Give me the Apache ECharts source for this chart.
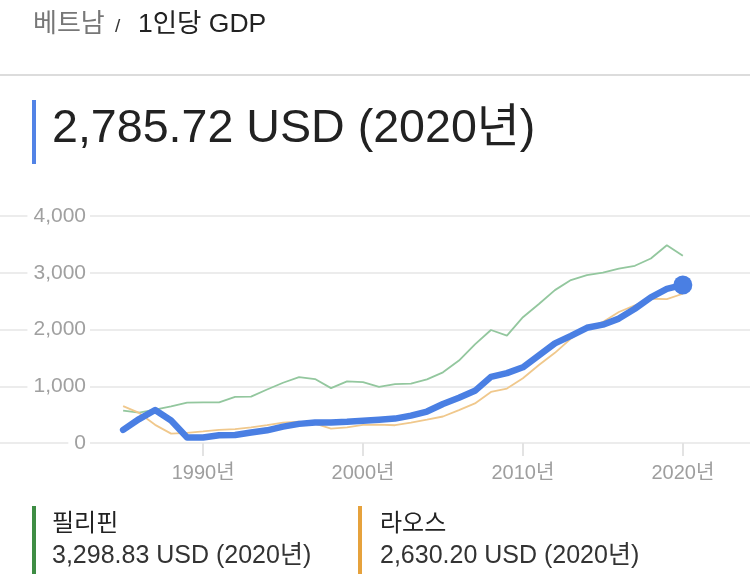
<!DOCTYPE html>
<html>
<head>
<meta charset="utf-8">
<script src="https://cdn.jsdelivr.net/npm/echarts@6/dist/echarts.min.js"></script>
<style>
html,body{margin:0;padding:0;background:#fff;}
#chart{width:750px;height:580px;}
</style>
</head>
<body>
<div id="chart"></div>
<script>
var years = [1985,1986,1987,1988,1989,1990,1991,1992,1993,1994,1995,1996,1997,1998,1999,2000,2001,2002,2003,2004,2005,2006,2007,2008,2009,2010,2011,2012,2013,2014,2015,2016,2017,2018,2019,2020];
var vietnam = [231,422,581,395,98,98,138,141,185,223,288,337,361,361,374,394,410,430,482,554,687,797,919,1165,1232,1334,1543,1755,1887,2030,2085,2192,2366,2567,2715,2785.72];
var philippines = [569,536,587,645,713,715,716,814,817,943,1062,1160,1127,967,1087,1073,990,1036,1048,1121,1245,1453,1737,1991,1893,2217,2450,2694,2871,2960,3001,3074,3123,3252,3485,3298.83];
var laos = [650,530,320,165,180,204,230,246,275,314,359,378,343,252,276,319,324,313,360,412,467,580,697,900,960,1141,1374,1589,1840,2017,2134,2309,2424,2542,2535,2630.20];
var xTicks = [1990,2000,2010,2020];

var FONT = "'Liberation Sans', 'Noto Sans CJK KR', sans-serif";
function pairs(arr){ return years.map(function(y,i){ return [y, arr[i]]; }); }

var chart = echarts.init(document.getElementById('chart'), null, {renderer:'canvas'});
chart.setOption({
  backgroundColor:'#fff',
  animation:false,
  grid:{left:0,right:0,top:216,bottom:137,containLabel:false},
  xAxis:{
    type:'value',
    min:1977.3,
    max:2024.2,
    axisLine:{show:false},
    splitLine:{show:false},
    axisTick:{show:true,customValues:xTicks,length:13,lineStyle:{color:'#e3e3e3',width:2}},
    axisLabel:{customValues:xTicks,formatter:function(v){return String(v)+'년';},color:'#9e9e9e',fontSize:20,fontFamily:FONT,margin:20}
  },
  yAxis:{
    type:'value',
    min:0,max:4000,interval:1000,
    axisLine:{show:false},
    axisTick:{show:false},
    splitLine:{show:true,lineStyle:{color:'#ececec',width:2}},
    axisLabel:{
      inside:true,align:'right',margin:90,
      color:'#a0a0a0',fontSize:21,fontFamily:FONT,
      backgroundColor:'#fff',padding:[2,4,2,6],
      formatter:function(v){return v.toLocaleString('en-US');}
    }
  },
  series:[
    {type:'line',name:'필리핀',data:pairs(philippines),showSymbol:false,
     lineStyle:{color:'#93c79e',width:1.8},z:2},
    {type:'line',name:'라오스',data:pairs(laos),showSymbol:false,
     lineStyle:{color:'#f0c88c',width:1.8},z:3},
    {type:'line',name:'베트남',data:pairs(vietnam),showSymbol:false,
     lineStyle:{color:'#4a7fe3',width:6.5,cap:'round',join:'round'},z:4,
     markPoint:{symbol:'circle',symbolSize:19,label:{show:false},itemStyle:{color:'#4a7fe3'},
       data:[{coord:[years[years.length-1], vietnam[vietnam.length-1]]}]}}
  ],
  graphic:[
    {type:'text',x:33,y:25,style:{text:'베트남',fill:'#777',font:'26px '+FONT,verticalAlign:'middle'}},
    {type:'text',x:115,y:27,style:{text:'/',fill:'#333',font:'19px '+FONT,verticalAlign:'middle'}},
    {type:'text',x:138,y:25,style:{text:'1인당 GDP',fill:'#222',font:'26.5px '+FONT,verticalAlign:'middle'}},
    {type:'rect',shape:{x:0,y:74,width:750,height:2},style:{fill:'#dcdcdc'}},
    {type:'rect',shape:{x:32,y:100,width:4,height:64},style:{fill:'#5283e6'}},
    {type:'text',x:52,y:129,style:{text:'2,785.72 USD (2020년)',fill:'#222',font:'46.6px '+FONT,verticalAlign:'middle'}},
    {type:'rect',shape:{x:32,y:506,width:4,height:68},style:{fill:'#3e8d44'}},
    {type:'text',x:52,y:524,style:{text:'필리핀',fill:'#222',font:'24px '+FONT,verticalAlign:'middle'}},
    {type:'text',x:52,y:556,style:{text:'3,298.83 USD (2020년)',fill:'#333',font:'25px '+FONT,verticalAlign:'middle'}},
    {type:'rect',shape:{x:358,y:506,width:4,height:68},style:{fill:'#e6a23c'}},
    {type:'text',x:380,y:524,style:{text:'라오스',fill:'#222',font:'24px '+FONT,verticalAlign:'middle'}},
    {type:'text',x:380,y:556,style:{text:'2,630.20 USD (2020년)',fill:'#333',font:'25px '+FONT,verticalAlign:'middle'}}
  ]
});
</script>
</body>
</html>
